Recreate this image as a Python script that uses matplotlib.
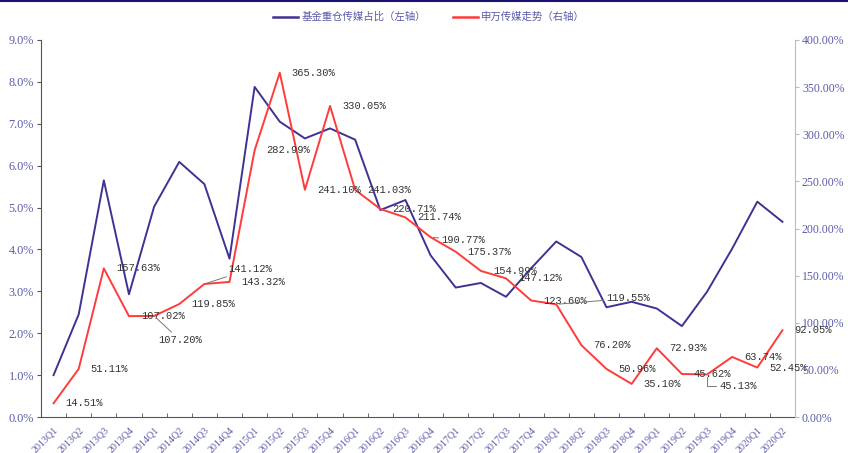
import matplotlib
matplotlib.use('Agg')
import matplotlib.pyplot as plt
from matplotlib.lines import Line2D
import numpy as np

# ── data ────────────────────────────────────────────────────────────
quarters = ['2013Q1', '2013Q2', '2013Q3', '2013Q4', '2014Q1', '2014Q2', '2014Q3', '2014Q4',
            '2015Q1', '2015Q2', '2015Q3', '2015Q4', '2016Q1', '2016Q2', '2016Q3', '2016Q4',
            '2017Q1', '2017Q2', '2017Q3', '2017Q4', '2018Q1', '2018Q2', '2018Q3', '2018Q4',
            '2019Q1', '2019Q2', '2019Q3', '2019Q4', '2020Q1', '2020Q2']

# 基金重仓传媒占比 (%), left axis
fund_share = [1.00, 2.45, 5.65, 2.93, 5.02, 6.09, 5.56, 3.78,
              7.88, 7.05, 6.65, 6.89, 6.62, 4.94, 5.18, 3.86,
              3.09, 3.20, 2.87, 3.55, 4.19, 3.82, 2.62, 2.75,
              2.59, 2.17, 2.99, 4.02, 5.14, 4.66]

# 申万传媒走势 (%), right axis
sw_media = [14.51, 51.11, 157.63, 107.02, 107.20, 119.85, 141.12, 143.32,
            282.99, 365.30, 241.10, 330.05, 241.03, 220.71, 211.74, 190.77,
            175.37, 154.99, 147.12, 123.60, 119.55, 76.20, 50.96, 35.10,
            72.93, 45.62, 45.13, 63.74, 52.45, 92.05]

left_ticks = [0, 1, 2, 3, 4, 5, 6, 7, 8, 9]
right_ticks = [0, 50, 100, 150, 200, 250, 300, 350, 400]

legend_labels = ['基金重仓传媒占比（左轴）', '申万传媒走势（右轴）']

# label offsets in pixels (dx, dy) where the default (+12, 0) doesn't fit
special = {
    4: (4, -24),
    6: (24, 15),
    15: (11, -3),
    20: (50, 6),
    26: (12, -12),
}

BLUE = '#3d3393'
RED = '#ff3b3b'
TICK_C = '#5b5bab'

plt.rcParams['font.family'] = ['Noto Sans CJK SC', 'DejaVu Sans']

fig = plt.figure(figsize=(8.48, 4.53), dpi=100)
ax = fig.add_axes([41 / 848, 36 / 453, 754 / 848, 377 / 453])
ax2 = ax.twinx()

x = np.arange(len(quarters))
ax.plot(x, fund_share, color=BLUE, lw=1.4, zorder=3)
ax2.plot(x, sw_media, color=RED, lw=1.4, zorder=3)

ax.set_xlim(-0.5, len(quarters) - 0.5)
ax.set_ylim(0, 9)
ax2.set_ylim(0, 400)

ax.set_yticks(left_ticks)
ax.set_yticklabels([f'{v:.1f}%' for v in left_ticks], family='Liberation Serif',
                   fontsize=8.8, color=TICK_C)
ax2.set_yticks(right_ticks)
ax2.set_yticklabels([f'{v:.2f}%' for v in right_ticks], family='Liberation Serif',
                    fontsize=8.5, color=TICK_C)

ax.set_xticks(x)
ax.set_xticklabels(quarters, rotation=45, ha='right', rotation_mode='anchor',
                   family='Liberation Serif', fontsize=7.2, color=TICK_C)
ax.set_xticks(np.arange(len(quarters) + 1) - 0.5, minor=True)
ax.tick_params(axis='x', which='major', length=0, pad=6)
ax.tick_params(axis='x', which='minor', length=3, direction='in', color='#555555')
ax.tick_params(axis='y', length=3, direction='out', color='#555555', pad=2)
ax2.tick_params(axis='y', length=3, direction='out', color='#bbbbbb', pad=2)

ax.spines['top'].set_visible(False)
ax2.spines['top'].set_visible(False)
ax.spines['right'].set_visible(False)
ax2.spines['left'].set_visible(False)
ax2.spines['bottom'].set_visible(False)
ax.spines['left'].set_color('#555555')
ax.spines['bottom'].set_color('#555555')
ax2.spines['right'].set_color('#bbbbbb')

# data labels on the red series
for i, v in enumerate(sw_media):
    txt = f'{v:.2f}%'
    if i in special:
        dx, dy = special[i]
        conn = 'angle,angleA=0,angleB=90,rad=0' if i == 26 else 'arc3'
        ax2.annotate(txt, (i, v), xytext=(dx, dy), textcoords='offset pixels',
                     ha='left', va='center', fontsize=7.5, family='Liberation Mono',
                     color='#333333', zorder=5,
                     arrowprops=dict(arrowstyle='-', color='#777777', lw=0.7,
                                     shrinkA=0, shrinkB=2, connectionstyle=conn))
    else:
        ax2.annotate(txt, (i, v), xytext=(12, 0), textcoords='offset pixels',
                     ha='left', va='center', fontsize=7.5, family='Liberation Mono',
                     color='#333333', zorder=5)

handles = [Line2D([], [], color=BLUE, lw=1.8), Line2D([], [], color=RED, lw=1.8)]
leg = fig.legend(handles, legend_labels, loc='center', bbox_to_anchor=(0.506, 0.962),
                 ncol=2, frameon=False, fontsize=7.5, handlelength=2.4,
                 handletextpad=0.3, columnspacing=2.6)
for t in leg.get_texts():
    t.set_color(TICK_C)

# navy strip along the top edge
fig.add_artist(Line2D([0, 1], [0.998, 0.998], transform=fig.transFigure,
                      color='#1a1070', lw=1.5))

fig.savefig('out.png', dpi=100)
